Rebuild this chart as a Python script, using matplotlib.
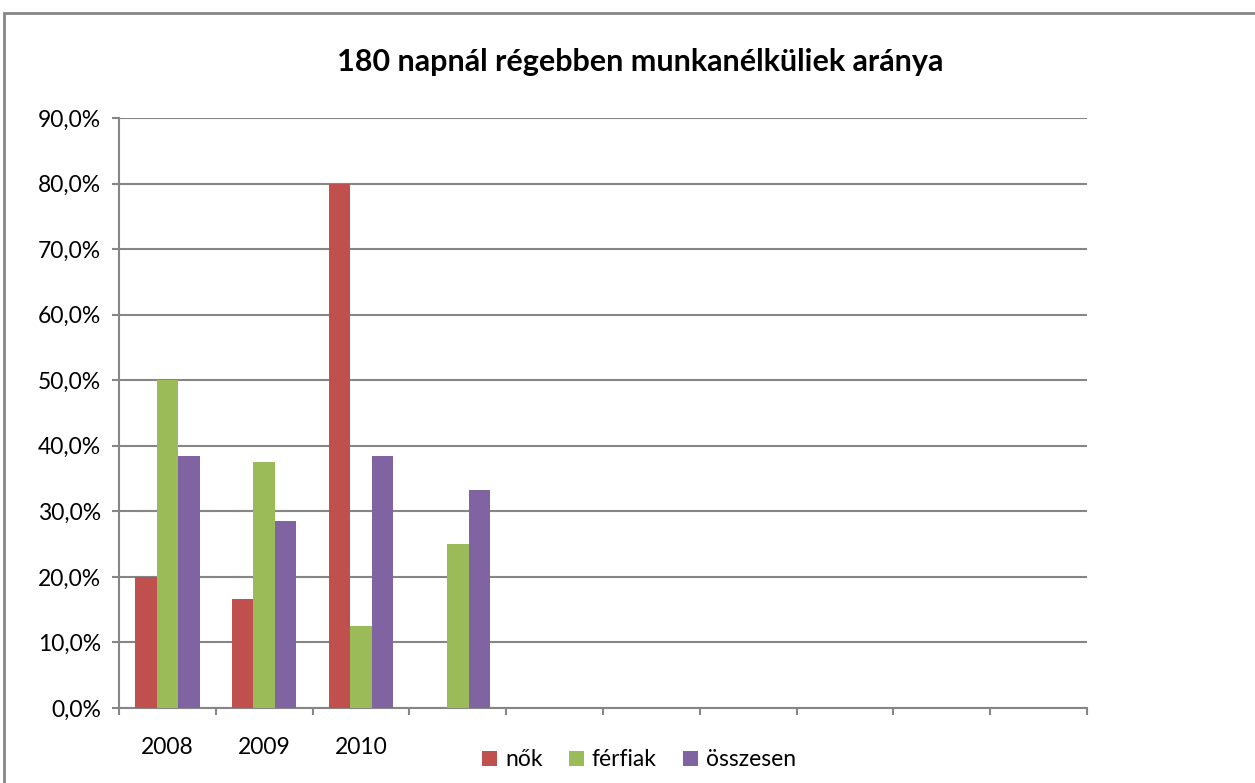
import numpy as np
import matplotlib

matplotlib.use('Agg')
import matplotlib.pyplot as plt
from matplotlib.patches import Rectangle
from matplotlib.ticker import FuncFormatter

plt.rcParams['font.family'] = ['Lato', 'DejaVu Sans']

# data (10 categories, only the first three have a label)
categories = ["2008", "2009", "2010", "", "", "", "", "", "", ""]
nok = [0.200, 0.167, 0.800, np.nan, np.nan, np.nan, np.nan, np.nan, np.nan, np.nan]
ferfiak = [0.500, 0.375, 0.125, 0.250, np.nan, np.nan, np.nan, np.nan, np.nan, np.nan]
osszesen = [0.385, 0.286, 0.385, 0.333, np.nan, np.nan, np.nan, np.nan, np.nan, np.nan]
series_names = ["nők", "férfiak", "összesen"]
colors = ['#C0504D', '#9BBB59', '#8064A2']

W, H = 1255, 783
fig = plt.figure(figsize=(W / 100, H / 100), dpi=100)
ax = fig.add_axes([119 / W, 1 - 708 / H, (1087 - 119) / W, (708 - 118) / H])

# outer chart border
fig.patches.append(Rectangle((4 / W, -0.05), 1.1, (1 - 13 / H) + 0.05,
                             transform=fig.transFigure, fill=False,
                             edgecolor='#868686', linewidth=2))

x = np.arange(len(categories))
bw = 1 / 4.5
for i, (vals, name, c) in enumerate(zip([nok, ferfiak, osszesen], series_names, colors)):
    ax.bar(x + (i - 1) * bw, vals, width=bw, color=c, label=name, zorder=3)

ax.set_xlim(-0.5, len(categories) - 0.5)
ax.set_ylim(0, 0.9)
ax.set_yticks(np.arange(0, 0.91, 0.1))
ax.yaxis.set_major_formatter(FuncFormatter(lambda v, p: f"{v * 100:.1f}%".replace('.', ',')))
ax.grid(axis='y', color='#868686', linewidth=1.5, zorder=0)

ax.set_xticks(np.arange(-0.5, len(categories), 1.0))
ax.set_xticklabels([])
ax.set_xticks(x, minor=True)
ax.set_xticklabels(categories, minor=True)
ax.tick_params(axis='x', which='major', length=5, color='#868686', width=1.5)
ax.tick_params(axis='x', which='minor', length=0, pad=21, labelsize=16.5)
ax.tick_params(axis='y', length=5, color='#868686', width=1.5, labelsize=16.5, pad=8)

for s in ['top', 'right']:
    ax.spines[s].set_visible(False)
for s in ['left', 'bottom']:
    ax.spines[s].set_color('#868686')
    ax.spines[s].set_linewidth(1.5)

fig.text(640 / W, 1 - 62 / H, "180 napnál régebben munkanélküliek aránya",
         ha='center', va='center', fontsize=22, fontweight='bold')

ax.legend(loc='center', bbox_to_anchor=(639 / W, 1 - 760 / H), bbox_transform=fig.transFigure,
          ncol=3, frameon=False, fontsize=16.5, handlelength=0.65, handleheight=0.65,
          handletextpad=0.35, columnspacing=1.15, borderpad=0)

fig.savefig('out.png', dpi=100)
